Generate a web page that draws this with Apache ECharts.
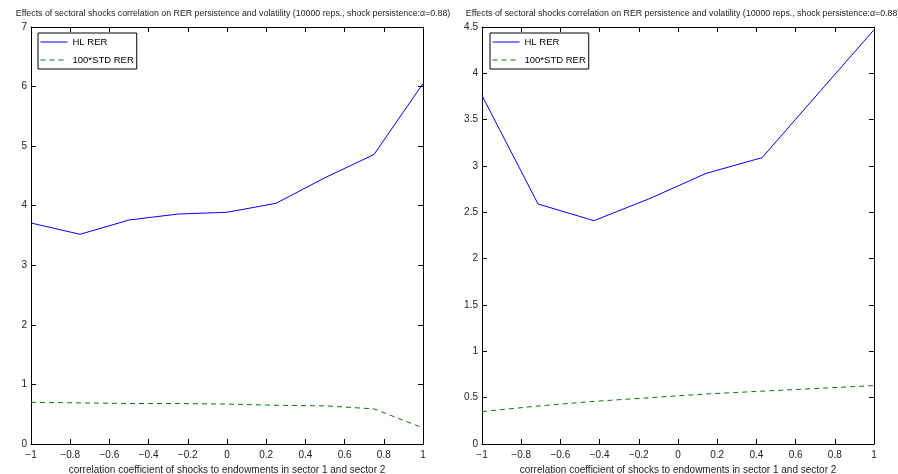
<!DOCTYPE html>
<html>
<head>
<meta charset="utf-8">
<script src="https://cdn.jsdelivr.net/npm/echarts@6/dist/echarts.min.js"></script>
<style>
  body { margin: 0; background: #ffffff; }
  #main { width: 898px; height: 474px; }
</style>
</head>
<body>
<div id="main"></div>
<script>
// left panel: 9 correlation values
var corrLeft = [-1, -0.75, -0.5, -0.25, 0, 0.25, 0.5, 0.75, 1]
var hlLeft = [3.71, 3.52, 3.76, 3.86, 3.89, 4.04, 4.47, 4.86, 6.05]
var stdLeft = [0.70, 0.69, 0.68, 0.68, 0.67, 0.65, 0.64, 0.59, 0.27]

// right panel: 8 correlation values
var corrRight = [-1, -0.714, -0.429, -0.143, 0.143, 0.429, 0.714, 1]
var hlRight = [3.76, 2.59, 2.41, 2.65, 2.92, 3.09, 3.78, 4.47]
var stdRight = [0.35, 0.41, 0.46, 0.50, 0.54, 0.57, 0.60, 0.63]

var titleText = 'Effects of sectoral shocks correlation on RER persistence and volatility (10000 reps., shock persistence:\u03b1=0.88)'
var xName = 'correlation coefficient of shocks to endowments in sector 1 and sector 2'

var font = 'Liberation Sans'
var fmtX = function (v) {
  var s = String(Math.round(v * 10) / 10)
  return s.replace('-', '\u2212')
}

function pairs(xs, ys) {
  return xs.map(function (x, i) { return [x, ys[i]] })
}

function bottomX(grid) {
  return {
    type: 'value', gridIndex: grid, min: -1, max: 1, interval: 0.2,
    name: xName, nameLocation: 'middle', nameGap: 19,
    nameTextStyle: { fontFamily: font, fontSize: 10, color: '#222' },
    axisLine: { onZero: false, lineStyle: { color: '#000', width: 1 } },
    axisTick: { inside: true, length: 5, lineStyle: { color: '#000' } },
    axisLabel: { fontFamily: font, fontSize: 10, color: '#222', margin: 6, formatter: fmtX },
    splitLine: { show: false }
  }
}
function topX(grid) {
  return {
    type: 'value', gridIndex: grid, position: 'top', min: -1, max: 1, interval: 0.2,
    axisLine: { onZero: false, lineStyle: { color: '#000', width: 1 } },
    axisTick: { inside: true, length: 5, lineStyle: { color: '#000' } },
    axisLabel: { show: false },
    splitLine: { show: false }
  }
}
function leftY(grid, max, step) {
  return {
    type: 'value', gridIndex: grid, min: 0, max: max, interval: step,
    axisLine: { show: true, onZero: false, lineStyle: { color: '#000', width: 1 } },
    axisTick: { show: true, inside: true, length: 5, lineStyle: { color: '#000' } },
    axisLabel: { fontFamily: font, fontSize: 10, color: '#222', margin: 4 },
    splitLine: { show: false }
  }
}
function rightY(grid, max, step) {
  return {
    type: 'value', gridIndex: grid, position: 'right', min: 0, max: max, interval: step,
    axisLine: { show: true, onZero: false, lineStyle: { color: '#000', width: 1 } },
    axisTick: { show: true, inside: true, length: 5, lineStyle: { color: '#000' } },
    axisLabel: { show: false },
    splitLine: { show: false }
  }
}
function legendBox(left) {
  return {
    left: left, top: 33, orient: 'vertical',
    borderColor: '#000', borderWidth: 1, padding: [4, 3, 4, 2],
    itemWidth: 27, itemHeight: 10, itemGap: 8,
    itemStyle: { opacity: 0 },
    lineStyle: { width: 1 },
    textStyle: { fontFamily: font, fontSize: 9.5, color: '#000' },
    data: ['HL RER', '100*STD RER']
  }
}
function lineSeries(name, data, xi, yi, color, dashed) {
  return {
    name: name, type: 'line', xAxisIndex: xi, yAxisIndex: yi,
    data: data, symbol: 'none', animation: false,
    lineStyle: { color: color, width: 1, type: dashed ? [5, 4] : 'solid' },
    itemStyle: { color: color }
  }
}

var chart = echarts.init(document.getElementById('main'))
chart.setOption({
  backgroundColor: '#ffffff',
  title: [
    { text: titleText, left: 228, top: 4, textAlign: 'center',
      textStyle: { fontFamily: font, fontSize: 8.8, fontWeight: 'normal', color: '#222' } },
    { text: titleText, left: 678, top: 4, textAlign: 'center',
      textStyle: { fontFamily: font, fontSize: 8.8, fontWeight: 'normal', color: '#222' } }
  ],
  legend: [legendBox(38), legendBox(490)],
  grid: [
    { left: 31, right: 475, top: 27, bottom: 30, outerBoundsMode: 'none' },
    { left: 482, right: 24, top: 27, bottom: 30, outerBoundsMode: 'none' }
  ],
  xAxis: [bottomX(0), topX(0), bottomX(1), topX(1)],
  yAxis: [leftY(0, 7, 1), rightY(0, 7, 1), leftY(1, 4.5, 0.5), rightY(1, 4.5, 0.5)],
  series: [
    lineSeries('HL RER', pairs(corrLeft, hlLeft), 0, 0, '#0000ff', false),
    lineSeries('100*STD RER', pairs(corrLeft, stdLeft), 0, 0, '#008000', true),
    lineSeries('HL RER', pairs(corrRight, hlRight), 2, 2, '#0000ff', false),
    lineSeries('100*STD RER', pairs(corrRight, stdRight), 2, 2, '#008000', true)
  ]
})
</script>
</body>
</html>
